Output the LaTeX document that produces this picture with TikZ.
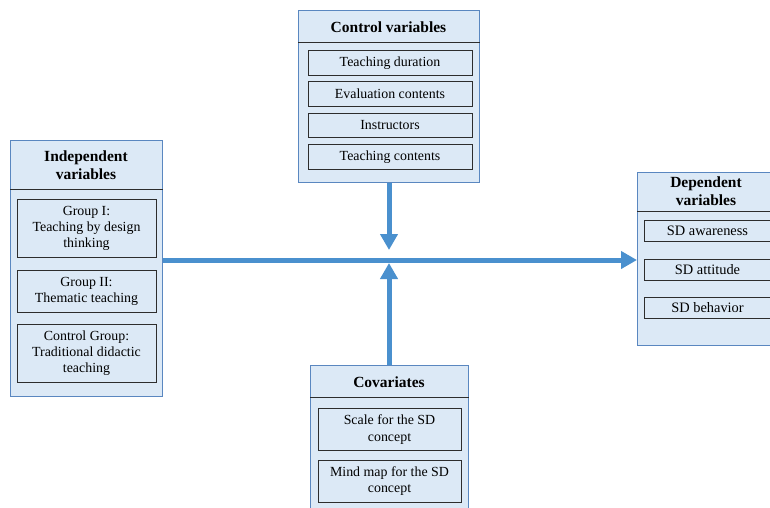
\documentclass[tikz,border=0pt]{standalone}
\usepackage{fontspec}
\setmainfont{Liberation Serif}
\usetikzlibrary{arrows.meta,positioning}
\definecolor{boxfill}{RGB}{220,233,246}
\definecolor{boxedge}{RGB}{90,135,192}
\definecolor{itemedge}{RGB}{45,45,45}
\definecolor{flowblue}{RGB}{74,144,206}

\begin{document}
\begin{tikzpicture}[x=1pt,y=-1pt,
    outerbox/.style={draw=boxedge,fill=boxfill,line width=1pt,inner sep=0pt,anchor=north west},
    title/.style={font=\bfseries\fontsize{15.5}{18}\selectfont,align=center},
    item/.style={draw=itemedge,fill=boxfill,line width=0.9pt,inner sep=0pt,align=center,
                 font=\fontsize{13.9}{16.3}\selectfont},
    sepline/.style={draw=itemedge,line width=0.8pt},
    flow/.style={draw=flowblue,line width=5pt,-{Triangle[width=17pt,length=16pt]}}]
    \clip (0,0) rectangle (770,507);
    \fill[white] (0,0) rectangle (770,507);

    % outer boxes
    \node[outerbox,minimum width=181pt,minimum height=172pt] (ctrl) at (298,10) {};
    \node[outerbox,minimum width=152pt,minimum height=256pt] (indep) at (10,140) {};
    \node[outerbox,minimum width=141pt,minimum height=173pt] (dep) at (637,172) {};
    \node[outerbox,minimum width=158pt,minimum height=150pt] (cov) at (310,365) {};

    % header lines
    \draw[sepline] ([yshift=-32pt]ctrl.north west) -- ([yshift=-32pt]ctrl.north east);
    \draw[sepline] ([yshift=-49pt]indep.north west) -- ([yshift=-49pt]indep.north east);
    \draw[sepline] ([yshift=-39pt]dep.north west) -- ([yshift=-39pt]dep.north east);
    \draw[sepline] ([yshift=-32pt]cov.north west) -- ([yshift=-32pt]cov.north east);

    % titles
    \node[title] (ctrltitle) at (388.5,27) {Control variables};
    \node[title] (indeptitle) at (86,165) {Independent\\variables};
    \node[title] (deptitle) at (706,191) {Dependent\\variables};
    \node[title] (covtitle) at (389,382) {Covariates};

    % control variables
    \node[item,anchor=north,minimum width=164pt,minimum height=24.5pt] (ctrl1) at (390,50) {Teaching duration};
    \node[item,below=6pt of ctrl1,minimum width=164pt,minimum height=24.5pt] (ctrl2) {Evaluation contents};
    \node[item,below=6pt of ctrl2,minimum width=164pt,minimum height=24.5pt] (ctrl3) {Instructors};
    \node[item,below=6pt of ctrl3,minimum width=164pt,minimum height=24.5pt] (ctrl4) {Teaching contents};

    % independent variables
    \node[item,anchor=north,minimum width=139pt,minimum height=58pt] (indep1) at (86.5,199) {Group I:\\Teaching by design\\thinking};
    \node[item,below=12pt of indep1,minimum width=139pt,minimum height=42pt] (indep2) {Group II:\\Thematic teaching};
    \node[item,below=11pt of indep2,minimum width=139pt,minimum height=58pt] (indep3) {Control Group:\\Traditional didactic\\teaching};

    % dependent variables
    \node[item,anchor=north,minimum width=127pt,minimum height=21pt,font=\fontsize{14.4}{16}\selectfont] (dep1) at (707.5,220) {SD awareness};
    \node[item,below=17pt of dep1,minimum width=127pt,minimum height=21pt,font=\fontsize{14.4}{16}\selectfont] (dep2) {SD attitude};
    \node[item,below=16pt of dep2,minimum width=127pt,minimum height=21pt,font=\fontsize{14.4}{16}\selectfont] (dep3) {SD behavior};

    % covariates
    \node[item,anchor=north,minimum width=143pt,minimum height=42pt] (cov1) at (389.5,408) {Scale for the SD\\concept};
    \node[item,below=9pt of cov1,minimum width=143pt,minimum height=42pt] (cov2) {Mind map for the SD\\concept};

    % arrows
    \coordinate (hub) at (389,260);
    \draw[flow] (indep.east |- hub) -- (dep.west |- hub);
    \draw[flow] (ctrl.south -| hub) -- ([yshift=10pt]hub);
    \draw[flow] (cov.north -| hub) -- ([yshift=-3pt]hub);
\end{tikzpicture}
\end{document}
